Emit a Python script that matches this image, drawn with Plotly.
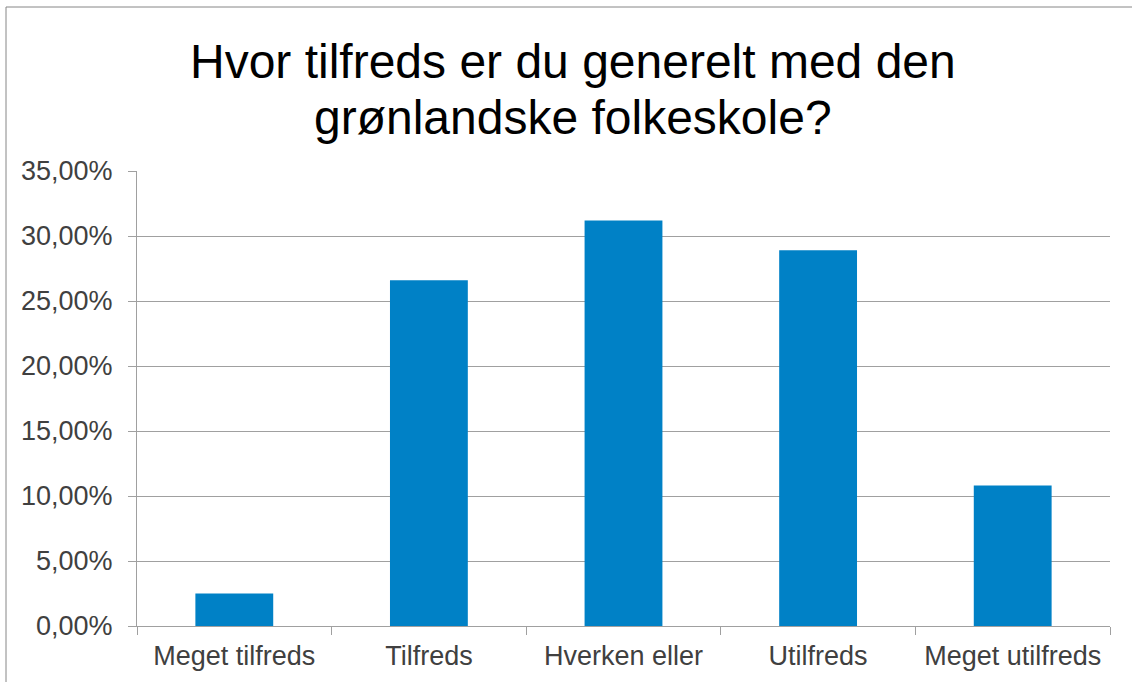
import plotly.graph_objects as go

categories = ["Meget tilfreds", "Tilfreds", "Hverken eller", "Utilfreds", "Meget utilfreds"]
values = [2.5, 26.6, 31.2, 28.9, 10.8]
tick_vals = [0, 5, 10, 15, 20, 25, 30, 35]
tick_text = ["0,00%", "5,00%", "10,00%", "15,00%", "20,00%", "25,00%", "30,00%", "35,00%"]
title_lines = ["Hvor tilfreds er du generelt med den", "grønlandske folkeskole?"]

W, H = 1132, 682
ml, mr, mt, mb = 137, 22, 171, 56
pw = W - ml - mr
ph = H - mt - mb
FONT = "Liberation Sans, Arial, sans-serif"

fig = go.Figure(go.Bar(x=categories, y=values, marker=dict(color="#0081C6", line=dict(width=0)), width=0.4))

fig.update_layout(
    width=W, height=H,
    margin=dict(l=ml, r=mr, t=mt, b=mb),
    paper_bgcolor="white", plot_bgcolor="white",
    font=dict(family=FONT, color="#404040", size=27),
    showlegend=False,
    bargap=0.6,
)
for line, ypix in zip(title_lines, [62, 117]):
    fig.add_annotation(text=line, xref="paper", yref="paper",
                       x=(573 - ml) / pw, y=1 + (mt - ypix) / ph,
                       xanchor="center", yanchor="middle", showarrow=False,
                       font=dict(size=48, color="#000000", family=FONT))

fig.update_yaxes(range=[0, 35], tickvals=tick_vals, ticktext=tick_text, showgrid=True, gridcolor="#A0A0A0",
                 gridwidth=1, showline=True, linecolor="#A0A0A0", linewidth=1, ticks="outside",
                 ticklen=8, tickcolor="#A0A0A0", zeroline=False, fixedrange=True,
                 ticklabelstandoff=10, automargin=False)
fig.update_xaxes(showline=True, linecolor="#A0A0A0", linewidth=1, ticks="outside", tickson="boundaries",
                 ticklen=8, tickcolor="#A0A0A0", showgrid=False, fixedrange=True,
                 ticklabelstandoff=6, automargin=False)

# outer chart border
fig.add_shape(type="rect", xref="paper", yref="paper",
              x0=(6 - ml) / pw, x1=(W + 5 - ml) / pw,
              y0=-(mb + 5) / ph, y1=1 + (mt - 7) / ph,
              line=dict(color="#868686", width=1), fillcolor="rgba(0,0,0,0)", layer="below")

fig.write_html("out.html", config={"displayModeBar": False},
               post_script="document.body.style.margin='0';document.body.style.overflow='hidden';")
